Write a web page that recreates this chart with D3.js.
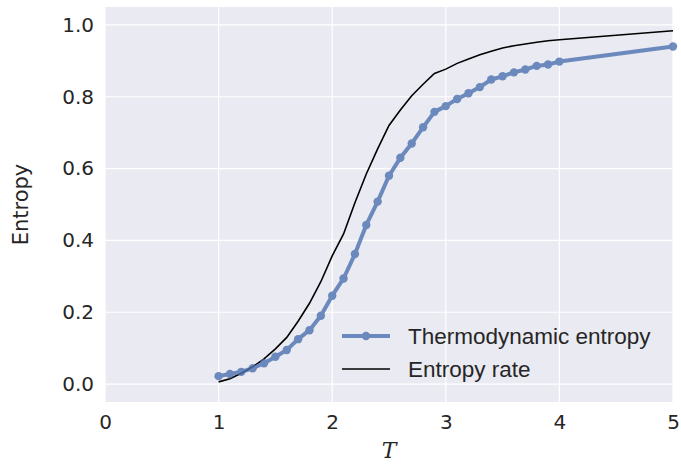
<!DOCTYPE html>
<html>
<head>
<meta charset="utf-8">
<script src="https://cdn.jsdelivr.net/npm/d3@7"></script>
<style>
  html, body { margin: 0; padding: 0; background: #ffffff; }
  svg { display: block; }
</style>
</head>
<body>
<svg id="chart" width="681" height="465"></svg>
<script>
// ---- data ----
const thermoT = [1.0,1.1,1.2,1.3,1.4,1.5,1.6,1.7,1.8,1.9,2.0,2.1,2.2,2.3,2.4,2.5,2.6,2.7,2.8,2.9,3.0,3.1,3.2,3.3,3.4,3.5,3.6,3.7,3.8,3.9,4.0,5.0];
const thermoS = [0.022,0.028,0.034,0.044,0.058,0.076,0.095,0.125,0.150,0.190,0.246,0.294,0.362,0.443,0.508,0.580,0.630,0.670,0.715,0.758,0.774,0.794,0.810,0.827,0.848,0.857,0.868,0.876,0.886,0.890,0.898,0.940];
const rateT = [1.0,1.1,1.2,1.3,1.4,1.5,1.6,1.7,1.8,1.9,2.0,2.1,2.2,2.3,2.4,2.5,2.6,2.7,2.8,2.9,3.0,3.1,3.2,3.3,3.4,3.5,3.6,3.7,3.8,3.9,4.0,5.0];
const rateS = [0.006,0.015,0.030,0.048,0.070,0.098,0.130,0.175,0.225,0.285,0.357,0.418,0.505,0.585,0.655,0.720,0.763,0.803,0.835,0.865,0.877,0.893,0.905,0.917,0.927,0.936,0.942,0.947,0.952,0.956,0.959,0.984];
const xTicks = [0,1,2,3,4,5];
const yTicks = [0.0,0.2,0.4,0.6,0.8,1.0];
const seriesNames = ["Thermodynamic entropy","Entropy rate"];
const xLabel = "T";
const yLabel = "Entropy";

// ---- layout ----
const L = 105, R = 673, T = 7, B = 402;
const svg = d3.select("#chart");
const x = d3.scaleLinear().domain([0,5]).range([L,R]);
const y = d3.scaleLinear().domain([-0.05,1.05]).range([B,T]);
const blue = "#4C72B0";

svg.append("rect").attr("x",L).attr("y",T).attr("width",R-L).attr("height",B-T).attr("fill","#EAEAF2");

// grid
svg.append("g").selectAll("line").data(xTicks).join("line")
  .attr("x1",d=>x(d)).attr("x2",d=>x(d)).attr("y1",T).attr("y2",B)
  .attr("stroke","#fff").attr("stroke-width",1.2);
svg.append("g").selectAll("line").data(yTicks).join("line")
  .attr("y1",d=>y(d)).attr("y2",d=>y(d)).attr("x1",L).attr("x2",R)
  .attr("stroke","#fff").attr("stroke-width",1.2);

// axes (labels only)
const xAxis = d3.axisBottom(x).tickValues(xTicks).tickFormat(d3.format("d")).tickSize(0).tickPadding(13);
const gx = svg.append("g").attr("transform",`translate(0,${B})`).call(xAxis);
const yAxis = d3.axisLeft(y).tickValues(yTicks).tickFormat(d3.format(".1f")).tickSize(0).tickPadding(11);
const gy = svg.append("g").attr("transform",`translate(${L},0)`).call(yAxis);
[gx,gy].forEach(g=>{
  g.select(".domain").remove();
  g.selectAll("text").attr("fill","#262626").style("font-family","'DejaVu Sans', sans-serif").style("font-size","20px");
});

// axis titles
svg.append("text").attr("x",(L+R)/2).attr("y",458)
  .attr("text-anchor","middle").attr("fill","#262626")
  .style("font-family","'DejaVu Serif', serif").style("font-style","italic").style("font-size","22px")
  .text(xLabel);
svg.append("text").attr("transform",`translate(28,${(T+B)/2}) rotate(-90)`)
  .attr("text-anchor","middle").attr("fill","#262626")
  .style("font-family","'DejaVu Sans', sans-serif").style("font-size","21px")
  .text(yLabel);

// lines
const rateData = rateT.map((t,i)=>[t,rateS[i]]);
const thermoData = thermoT.map((t,i)=>[t,thermoS[i]]);
const line = d3.line().x(d=>x(d[0])).y(d=>y(d[1]));

svg.append("path").datum(rateData).attr("d",line)
  .attr("fill","none").attr("stroke","#000").attr("stroke-width",1.6);

const gb = svg.append("g").attr("opacity",0.8);
gb.append("path").datum(thermoData).attr("d",line)
  .attr("fill","none").attr("stroke",blue).attr("stroke-width",4).attr("stroke-linejoin","round");
gb.selectAll("circle").data(thermoData).join("circle")
  .attr("cx",d=>x(d[0])).attr("cy",d=>y(d[1])).attr("r",4.2).attr("fill",blue);

// legend
const lg = svg.append("g");
const lgItems = [{name:seriesNames[0], yy:336, kind:"thermo"},{name:seriesNames[1], yy:369, kind:"rate"}];
lgItems.forEach(it=>{
  if (it.kind==="thermo") {
    const g = lg.append("g").attr("opacity",0.8);
    g.append("line").attr("x1",342).attr("x2",390).attr("y1",it.yy).attr("y2",it.yy)
      .attr("stroke",blue).attr("stroke-width",4);
    g.append("circle").attr("cx",366).attr("cy",it.yy).attr("r",4.2).attr("fill",blue);
  } else {
    lg.append("line").attr("x1",342).attr("x2",390).attr("y1",it.yy).attr("y2",it.yy)
      .attr("stroke","#000").attr("stroke-width",1.6);
  }
  lg.append("text").attr("x",408).attr("y",it.yy).attr("dy","0.35em")
    .attr("fill","#262626").style("font-family","'Liberation Sans', Arial, sans-serif").style("font-size","22.5px")
    .text(it.name);
});
</script>
</body>
</html>
